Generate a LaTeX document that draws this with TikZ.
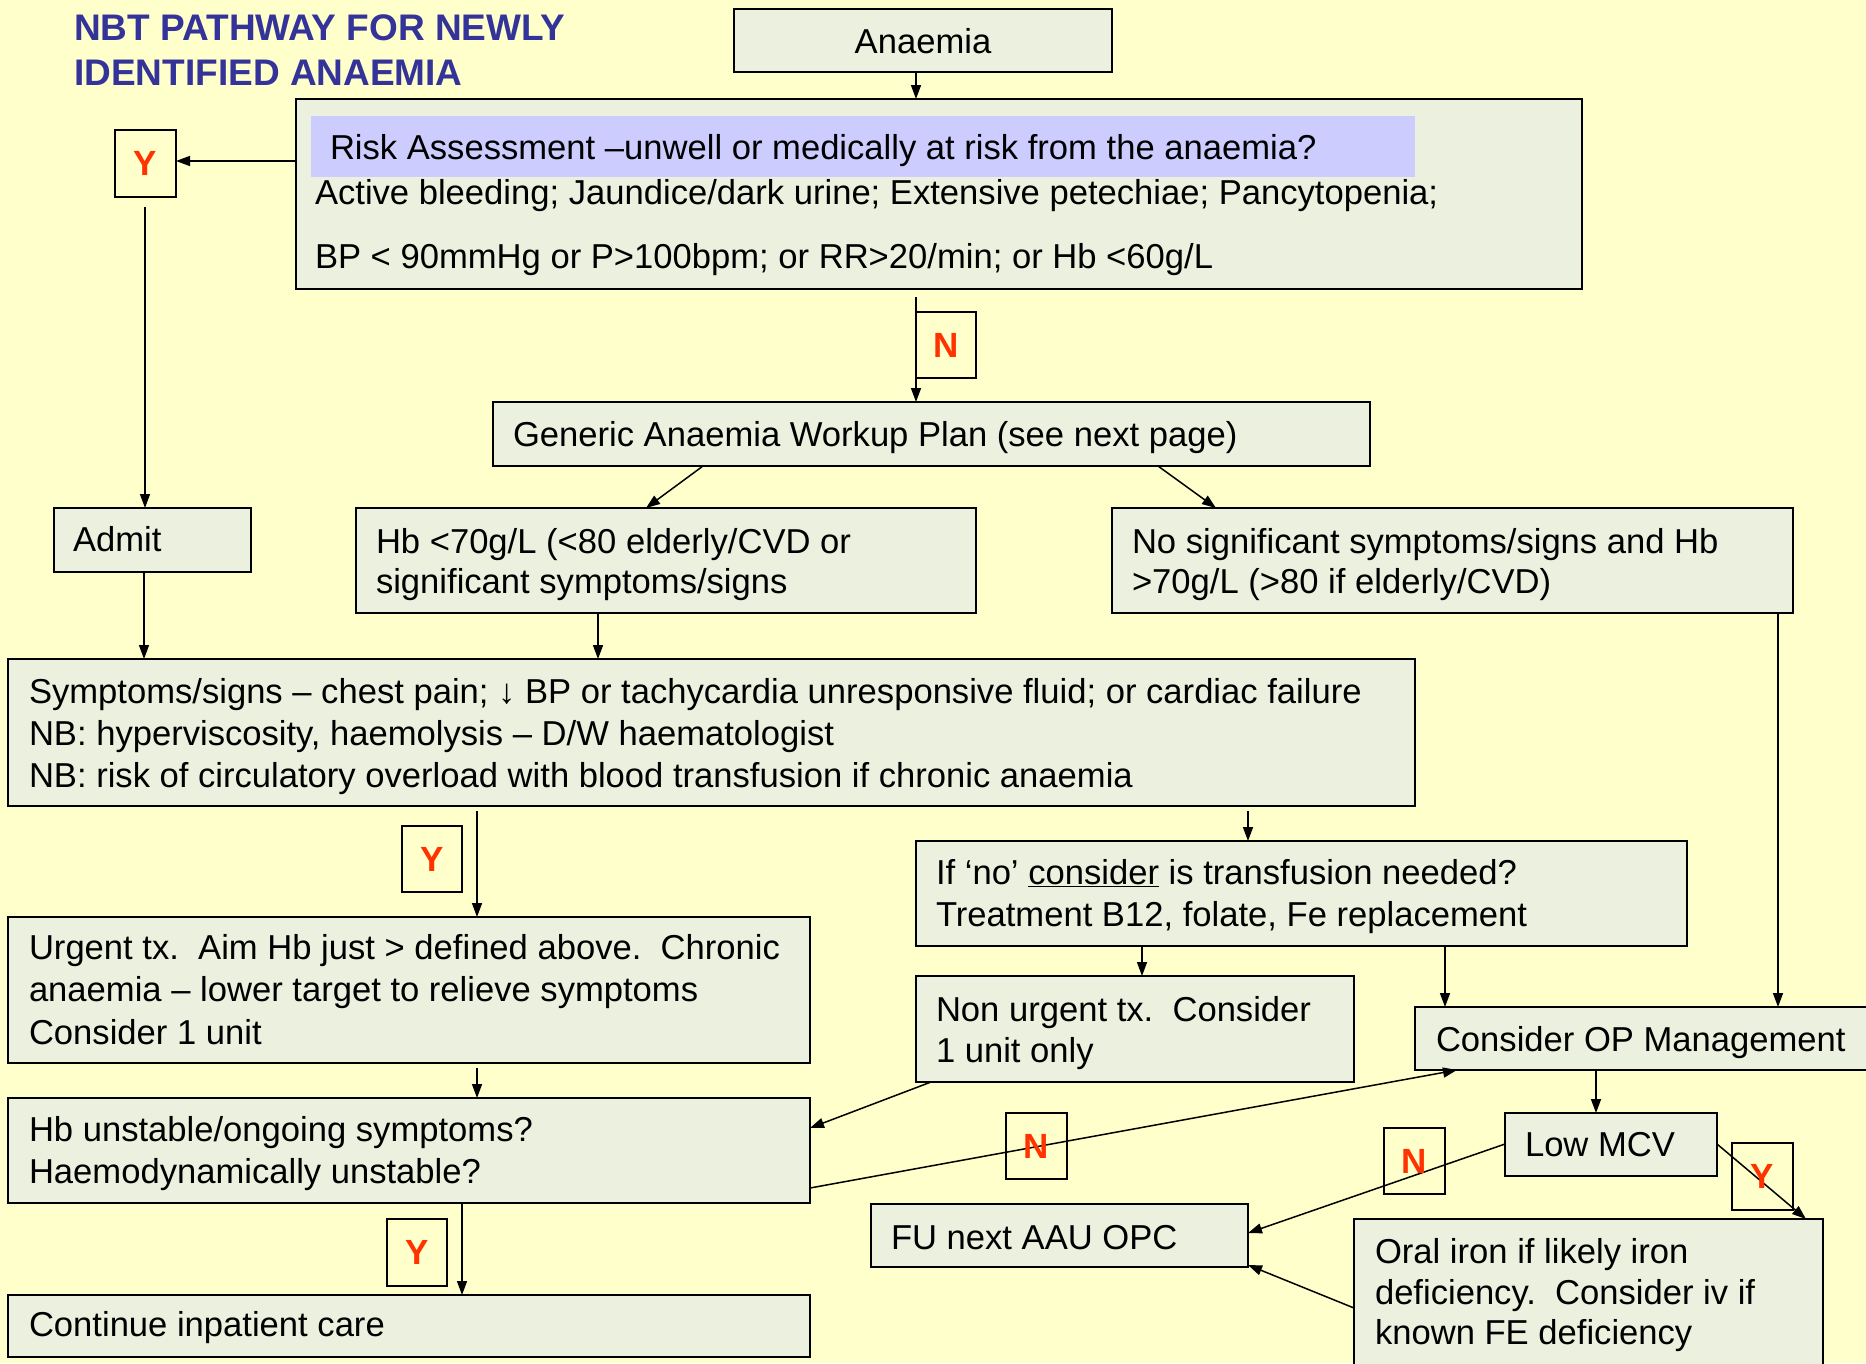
\documentclass[tikz,border=0pt]{standalone}
\usepackage{fontspec}
\setmainfont{Liberation Sans}
\usetikzlibrary{arrows.meta}
\definecolor{bg}{RGB}{255,255,204}
\definecolor{boxfill}{RGB}{235,241,222}
\definecolor{hlcol}{RGB}{204,204,255}
\definecolor{titleblue}{RGB}{51,51,153}
\definecolor{ynred}{RGB}{255,51,0}
\newcommand\mybox[6][box]{\node[#1,minimum width={#5-#3},minimum height={#6-#4}] (#2) at ({(#3+#5)/2},{(#4+#6)/2}) {};}
\newcommand\ynbox[6]{\node[ynb,minimum width={#5-#3},minimum height={#6-#4}] (#1) at ({(#3+#5)/2},{(#4+#6)/2}) {#2};}
\newcommand\tl[4]{\node[txt] (#1) at (#2,#3+1) {#4};}
\begin{document}
\begin{tikzpicture}[x=1pt,y=-1pt,
  box/.style={draw=black,line width=1.8pt,fill=boxfill,inner sep=0pt,outer sep=0pt},
  hlbox/.style={fill=hlcol,draw=none,inner sep=0pt,outer sep=0pt},
  ynb/.style={draw=black,line width=1.5pt,inner sep=0pt,outer sep=0pt,text=ynred,font=\fontsize{35}{40}\selectfont\bfseries},
  txt/.style={anchor=base west,inner sep=0pt,outer sep=0pt,font=\fontsize{34.6}{40}\selectfont},
  arr/.style={line width=1.5pt,-{Triangle[length=14pt,width=10pt]}},
  ln/.style={line width=1.5pt}]
\useasboundingbox (0,0) rectangle (1866,1363);
\clip (0,0) rectangle (1866,1363);
\fill[bg] (0,0) rectangle (1866,1363);
% title
\node[anchor=base west,inner sep=0pt,text=titleblue,font=\fontsize{37}{44}\selectfont\bfseries] (title1) at (74,40) {NBT PATHWAY FOR NEWLY};
\node[anchor=base west,inner sep=0pt,text=titleblue,font=\fontsize{37}{44}\selectfont\bfseries] (title2) at (74,85) {IDENTIFIED ANAEMIA};
% boxes
\mybox{anaemia}{734}{9}{1112}{72}
\mybox{risk}{296}{99}{1582}{289}
\mybox[hlbox]{hl}{311}{116}{1415}{177}
\mybox{generic}{493}{402}{1370}{466}
\mybox{admit}{54}{508}{251}{572}
\mybox{hb}{356}{508}{976}{613}
\mybox{nosig}{1112}{508}{1793}{613}
\mybox{symp}{8}{659}{1415}{806}
\mybox{urgent}{8}{917}{810}{1063}
\mybox{ifno}{916}{841}{1687}{946}
\mybox{nonurg}{916}{976}{1354}{1082}
\mybox{considerop}{1415}{1007}{1885}{1070}
\mybox{lowmcv}{1505}{1113}{1717}{1176}
\mybox{oral}{1354}{1219}{1823}{1385}
\mybox{fu}{871}{1204}{1248}{1267}
\mybox{hbun}{8}{1098}{810}{1203}
\mybox{cont}{8}{1295}{810}{1357}
\ynbox{yrisk}{Y}{115}{130}{176}{197}
% texts
\node[txt,anchor=base] (tanaemia) at (923,53) {Anaemia};
\tl{trisk1}{330}{158}{Risk Assessment –unwell or medically at risk from the anaemia?}
\tl{trisk2}{315}{203}{Active bleeding; Jaundice/dark urine; Extensive petechiae; Pancytopenia;}
\tl{trisk3}{315}{267}{BP < 90mmHg or P>100bpm; or RR>20/min; or Hb <60g/L}
\tl{tgeneric}{513}{445}{Generic Anaemia Workup Plan (see next page)}
\tl{tadmit}{73}{550}{Admit}
\tl{thb1}{376}{552}{Hb <70g/L (<80 elderly/CVD or}
\tl{thb2}{376}{592}{significant symptoms/signs}
\tl{tnosig1}{1132}{552}{No significant symptoms/signs and Hb}
\tl{tnosig2}{1132}{592}{>70g/L (>80 if elderly/CVD)}
\tl{tsymp1}{29}{702}{Symptoms/signs – chest pain; ↓ BP or tachycardia unresponsive fluid; or cardiac failure}
\tl{tsymp2}{29}{744}{NB: hyperviscosity, haemolysis – D/W haematologist}
\tl{tsymp3}{29}{786}{NB: risk of circulatory overload with blood transfusion if chronic anaemia}
\tl{turg1}{29}{958}{Urgent tx.\ \ Aim Hb just > defined above.\ \ Chronic}
\tl{turg2}{29}{1000}{anaemia – lower target to relieve symptoms}
\tl{turg3}{29}{1043}{Consider 1 unit}
\tl{tif1}{936}{883}{If ‘no’ \underline{consider} is transfusion needed?}
\tl{tif2}{936}{925}{Treatment B12, folate, Fe replacement}
\tl{tnon1}{936}{1020}{Non urgent tx.\ \ Consider}
\tl{tnon2}{936}{1061}{1 unit only}
\tl{tcop}{1436}{1050}{Consider OP Management}
\tl{tlow}{1525}{1155}{Low MCV}
\tl{tfu}{891}{1248}{FU next AAU OPC}
\tl{toral1}{1375}{1262}{Oral iron if likely iron}
\tl{toral2}{1375}{1303}{deficiency.\ \ Consider iv if}
\tl{toral3}{1375}{1343}{known FE deficiency}
\tl{thbun1}{29}{1140}{Hb unstable/ongoing symptoms?}
\tl{thbun2}{29}{1182}{Haemodynamically unstable?}
\tl{tcont}{29}{1335}{Continue inpatient care}
% connectors
\draw[arr] (anaemia.south -| 916,0) -- (risk.north -| 916,0);
\draw[arr] (risk.west |- 0,161) -- (yrisk.east |- 0,161);
\draw[arr,shorten <=10pt] (yrisk.south -| 145,0) -- (admit.north -| 145,0);
\draw[arr,shorten <=8pt] (risk.south -| 916,0) -- (generic.north -| 916,0);
\draw[arr] (generic.south -| 703,0) -- (hb.north -| 646,0);
\draw[arr] (generic.south -| 1158,0) -- (nosig.north -| 1216,0);
\draw[arr] (admit.south -| 144,0) -- (symp.north -| 144,0);
\draw[arr] (hb.south -| 598,0) -- (symp.north -| 598,0);
\draw[arr] (nosig.south -| 1778,0) -- (considerop.north -| 1778,0);
\draw[arr,shorten <=5pt] (symp.south -| 477,0) -- (urgent.north -| 477,0);
\draw[arr,shorten <=5pt] (symp.south -| 1248,0) -- (ifno.north -| 1248,0);
\draw[arr,shorten <=5pt] (urgent.south -| 477,0) -- (hbun.north -| 477,0);
\draw[arr] (ifno.south -| 1142,0) -- (nonurg.north -| 1142,0);
\draw[arr] (ifno.south -| 1445,0) -- (considerop.north -| 1445,0);
\draw[arr] (nonurg.south -| 931,0) -- (hbun.east |- 0,1128);
\draw[arr] (hbun.east |- 0,1188) -- (considerop.south -| 1457,0);
\draw[arr] (hbun.south -| 462,0) -- (cont.north -| 462,0);
\draw[arr] (considerop.south -| 1596,0) -- (lowmcv.north -| 1596,0);
\draw[arr] (lowmcv.west |- 0,1144) -- (fu.east |- 0,1233);
\draw[arr] (lowmcv.east |- 0,1144) -- (oral.north -| 1806,0);
\draw[arr] (oral.west |- 0,1308) -- (fu.east |- 0,1265);
% Y/N boxes
\ynbox{nrisk}{N}{916}{312}{976}{378}
\ynbox{ysymp}{Y}{402}{826}{462}{892}
\ynbox{ylow}{Y}{1732}{1143}{1793}{1210}
\ynbox{nlow}{N}{1384}{1128}{1445}{1194}
\ynbox{nhb}{N}{1006}{1113}{1067}{1179}
\ynbox{ycont}{Y}{387}{1219}{447}{1286}
\end{tikzpicture}
\end{document}
